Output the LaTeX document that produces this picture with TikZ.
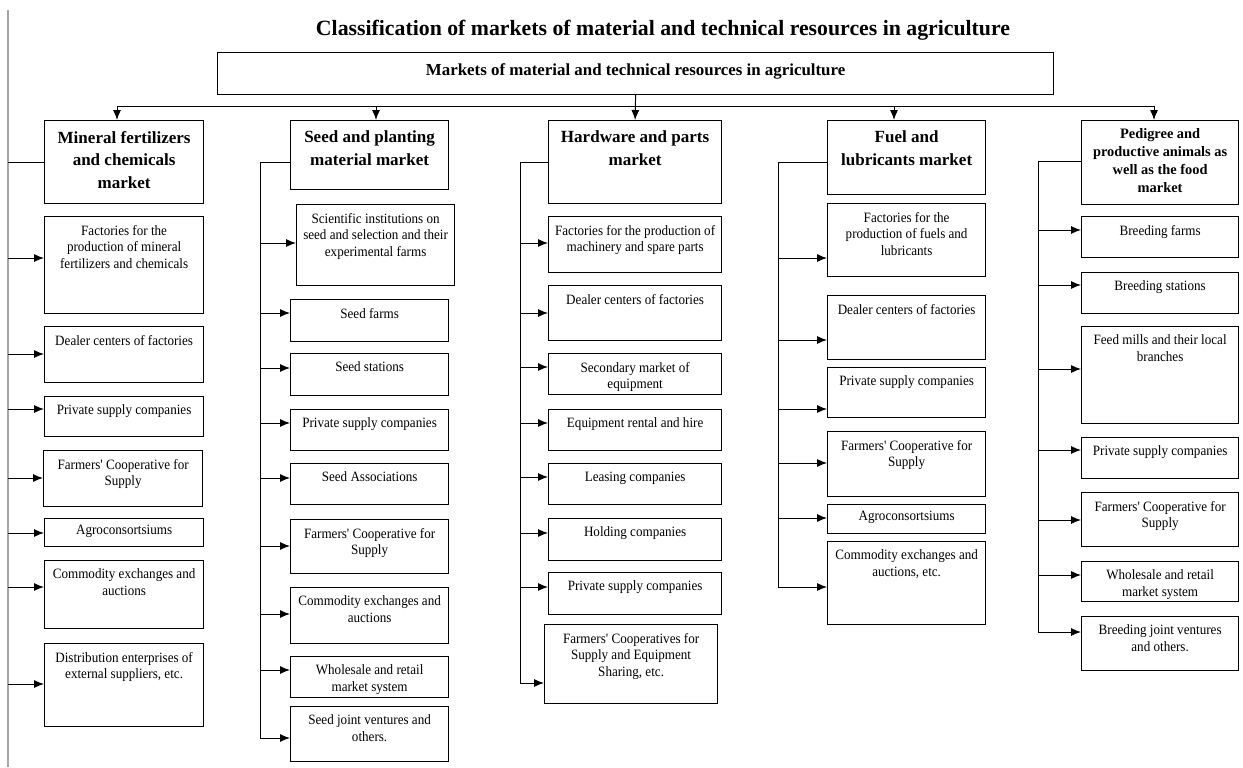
\documentclass[tikz,border=0pt]{standalone}
\usepackage{fontspec}
\setmainfont{Liberation Serif}
\newfontfamily\cellfont[FakeStretch=0.92]{Liberation Serif}
\usetikzlibrary{arrows.meta}
\newlength{\pxu}\setlength{\pxu}{0.02cm}
\newcommand{\cellbox}[4][4.8pt]{\parbox[t][#3\pxu][t]{#2\pxu}{\centering\vspace*{#1}#4}}

\begin{document}
\begin{tikzpicture}[x=0.02cm,y=-0.02cm,
  cell/.style={draw,line width=0.7pt,anchor=north west,inner sep=0pt,
    font=\cellfont\fontsize{8.1}{9.4}\selectfont},
  head/.style={cell,font=\bfseries\fontsize{9.7}{12.8}\selectfont},
  arr/.style={-{Latex[length=2mm,width=1.6mm]},line width=0.55pt}]
\useasboundingbox (0,0) rectangle (1243,767);
% ===== title and root box =====
\node[font=\bfseries\fontsize{12.4}{14}\selectfont,inner sep=0pt] (title) at (663,30)
  {Classification of markets of material and technical resources in agriculture};
\node[head,font=\bfseries\fontsize{9.6}{12}\selectfont] (root) at (217,52)
  {\cellbox[6pt]{836}{42}{Markets of material and technical resources in agriculture}};
% ===== column headers =====
\node[head] (h1) at (44,120) {\cellbox[6pt]{159}{83}{Mineral fertilizers\\and chemicals\\market}};
\node[head] (h2) at (290,120) {\cellbox[6pt]{158}{69}{Seed and planting\\material market}};
\node[head] (h3) at (548,120) {\cellbox[6pt]{173}{83}{Hardware and parts\\market}};
\node[head] (h4) at (827,120) {\cellbox[6pt]{158}{74}{Fuel and\\lubricants market}};
\node[head,font=\bfseries\fontsize{8.2}{10.3}\selectfont] (h5) at (1081,120)
  {\cellbox[4.5pt]{157}{84}{Pedigree and\\productive animals as\\well as the food\\market}};
% ===== bus from root =====
\draw[line width=0.55pt] (117,106) -- (1154,106);
\draw[arr] (root.south) -- (h3.north);
\foreach \n/\x in {h1/117,h2/376,h4/894,h5/1154}{
  \draw[arr] (\x,106) -- (\n.north -| \x,0);}
% ===== column 1 =====
\node[cell] (c1a) at (44,216) {\cellbox{159}{97}{Factories for the\\production of mineral\\fertilizers and chemicals}};
\node[cell] (c1b) at (44,326) {\cellbox{159}{56}{Dealer centers of factories}};
\node[cell] (c1c) at (44,396) {\cellbox{159}{40}{Private supply companies}};
\node[cell] (c1d) at (43,450) {\cellbox{159}{56}{Farmers' Cooperative for\\Supply}};
\node[cell] (c1e) at (44,518) {\cellbox[3.5pt]{159}{28}{Agroconsortsiums}};
\node[cell] (c1f) at (44,560) {\cellbox{159}{68}{Commodity exchanges and\\auctions}};
\node[cell] (c1g) at (44,643) {\cellbox{159}{83}{Distribution enterprises of\\external suppliers, etc.}};
\draw[black!35,line width=0.8pt] (8,10) -- (8,767);
\draw[line width=0.55pt] (h1.west |- 0,162) -- (8,162);
\foreach \n/\y in {c1a/258,c1b/354,c1c/409,c1d/478,c1e/533,c1f/587,c1g/684}{
  \draw[arr] (8,\y) -- (\n.west |- 0,\y);}
% ===== column 2 =====
\node[cell] (c2a) at (296,204) {\cellbox{158}{81}{Scientific institutions on\\seed and selection and their\\experimental farms}};
\node[cell] (c2b) at (290,299) {\cellbox{158}{42}{Seed farms}};
\node[cell] (c2c) at (290,353) {\cellbox{158}{42}{Seed stations}};
\node[cell] (c2d) at (290,409) {\cellbox{158}{41}{Private supply companies}};
\node[cell] (c2e) at (290,463) {\cellbox{158}{41}{Seed Associations}};
\node[cell] (c2f) at (290,519) {\cellbox{158}{54}{Farmers' Cooperative for\\Supply}};
\node[cell] (c2g) at (290,587) {\cellbox{158}{56}{Commodity exchanges and\\auctions}};
\node[cell] (c2h) at (290,656) {\cellbox{158}{41}{Wholesale and retail\\market system}};
\node[cell] (c2i) at (290,706) {\cellbox{158}{55}{Seed joint ventures and\\others.}};
\draw[line width=0.55pt] (h2.west |- 0,162) -- (260,162) -- (260,738);
\foreach \n/\y in {c2a/243,c2b/313,c2c/368,c2d/423,c2e/478,c2f/546,c2g/614,c2h/670,c2i/738}{
  \draw[arr] (260,\y) -- (\n.west |- 0,\y);}
% ===== column 3 =====
\node[cell] (c3a) at (548,216) {\cellbox{173}{56}{Factories for the production of\\machinery and spare parts}};
\node[cell] (c3b) at (548,285) {\cellbox{173}{55}{Dealer centers of factories}};
\node[cell] (c3c) at (548,353) {\cellbox{173}{41}{Secondary market of\\equipment}};
\node[cell] (c3d) at (548,409) {\cellbox{173}{41}{Equipment rental and hire}};
\node[cell] (c3e) at (548,463) {\cellbox{173}{41}{Leasing companies}};
\node[cell] (c3f) at (548,518) {\cellbox{173}{42}{Holding companies}};
\node[cell] (c3g) at (548,572) {\cellbox{173}{42}{Private supply companies}};
\node[cell] (c3h) at (544,624) {\cellbox{173}{79}{Farmers' Cooperatives for\\Supply and Equipment\\Sharing, etc.}};
\draw[line width=0.55pt] (h3.west |- 0,162) -- (520,162) -- (520,683);
\foreach \n/\y in {c3a/243,c3b/313,c3c/367,c3d/423,c3e/477,c3f/533,c3g/587,c3h/683}{
  \draw[arr] (520,\y) -- (\n.west |- 0,\y);}
% ===== column 4 =====
\node[cell] (c4a) at (827,203) {\cellbox{158}{73}{Factories for the\\production of fuels and\\lubricants}};
\node[cell] (c4b) at (827,295) {\cellbox{158}{64}{Dealer centers of factories}};
\node[cell] (c4c) at (827,367) {\cellbox{158}{50}{Private supply companies}};
\node[cell] (c4d) at (827,431) {\cellbox{158}{65}{Farmers' Cooperative for\\Supply}};
\node[cell] (c4e) at (827,504) {\cellbox[3.5pt]{158}{29}{Agroconsortsiums}};
\node[cell] (c4f) at (827,541) {\cellbox{158}{83}{Commodity exchanges and\\auctions, etc.}};
\draw[line width=0.55pt] (h4.west |- 0,162) -- (778,162) -- (778,587);
\foreach \n/\y in {c4a/258,c4b/340,c4c/409,c4d/463,c4e/518,c4f/587}{
  \draw[arr] (778,\y) -- (\n.west |- 0,\y);}
% ===== column 5 =====
\node[cell] (c5a) at (1081,216) {\cellbox{157}{41}{Breeding farms}};
\node[cell] (c5b) at (1081,272) {\cellbox{157}{41}{Breeding stations}};
\node[cell] (c5c) at (1081,326) {\cellbox{157}{97}{Feed mills and their local\\branches}};
\node[cell] (c5d) at (1081,437) {\cellbox{157}{41}{Private supply companies}};
\node[cell] (c5e) at (1081,492) {\cellbox{157}{54}{Farmers' Cooperative for\\Supply}};
\node[cell] (c5f) at (1081,561) {\cellbox{157}{40}{Wholesale and retail\\market system}};
\node[cell] (c5g) at (1081,616) {\cellbox{157}{54}{Breeding joint ventures\\and others.}};
\draw[line width=0.55pt] (h5.west |- 0,161) -- (1038,161) -- (1038,632);
\foreach \n/\y in {c5a/230,c5b/285,c5c/369,c5d/450,c5e/520,c5f/575,c5g/632}{
  \draw[arr] (1038,\y) -- (\n.west |- 0,\y);}
\end{tikzpicture}
\end{document}
